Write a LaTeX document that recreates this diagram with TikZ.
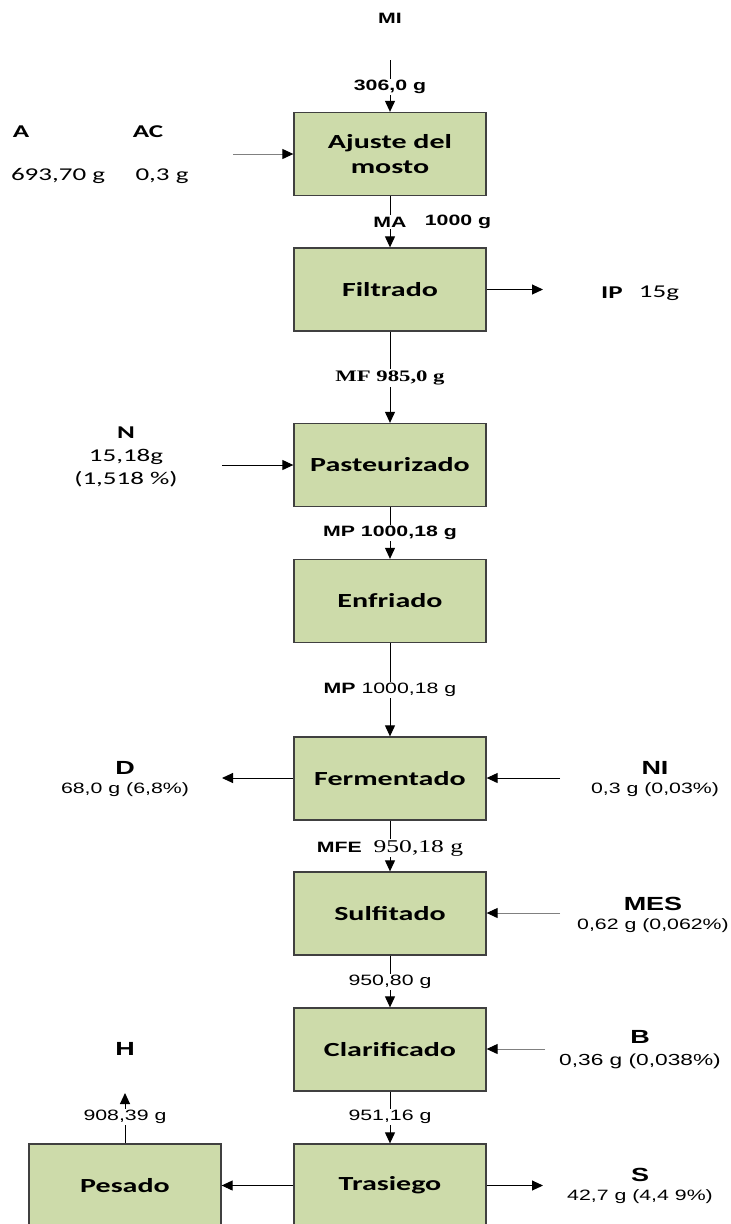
\documentclass[tikz,border=0pt]{standalone}
\usepackage{fontspec}
\usetikzlibrary{arrows.meta}
\newfontfamily\calfont[FakeStretch=1.5]{Carlito}
\newfontfamily\arifont[FakeStretch=1.42]{Liberation Sans}
\newfontfamily\timfont[FakeStretch=1.42]{Liberation Serif}
\definecolor{boxfill}{RGB}{205,219,170}
\definecolor{boxline}{RGB}{64,64,64}
\definecolor{feedline}{RGB}{128,128,128}
\tikzset{
  proc/.style={draw=boxline, line width=1.3pt, fill=boxfill,
    minimum width=192pt, minimum height=83pt, align=center, inner sep=0pt,
    font=\calfont\bfseries\fontsize{20}{25}\selectfont},
  flow/.style={line width=1pt, -{Triangle[length=11pt,width=10pt]}},
  grayflow/.style={line width=1pt, draw=feedline, -{Triangle[length=11pt,width=10pt,color=black]}},
  onlink/.style={fill=white, inner sep=1.5pt, font=\arifont\fontsize{15}{18}\selectfont},
  tagA/.style={inner sep=0pt, font=\arifont\bfseries\fontsize{19}{22}\selectfont},
  valA/.style={inner sep=0pt, font=\arifont\fontsize{15}{18}\selectfont},
  tagC/.style={inner sep=0pt, font=\calfont\bfseries\fontsize{18}{22}\selectfont},
  valC/.style={inner sep=0pt, font=\calfont\fontsize{18}{22}\selectfont},
}
\begin{document}
\begin{tikzpicture}[x=1pt, y=-1pt]
\useasboundingbox (0,0) rectangle (731,1224);

% process steps
\node[proc] (ajuste)  at (390,154)    {Ajuste del\\mosto};
\node[proc] (filtr)   at (390,289.5)  {Filtrado};
\node[proc] (past)    at (390,465)    {Pasteurizado};
\node[proc] (enfr)    at (390,601)    {Enfriado};
\node[proc] (ferm)    at (390,778.5)  {Fermentado};
\node[proc] (sulf)    at (390,913.5)  {Sulfitado};
\node[proc] (clar)    at (390,1049.5) {Clarificado};
\node[proc] (tras)    at (390,1185.5) {Trasiego};
\node[proc] (pesado)  at (125,1185.5) {Pesado};

% raw material entering
\node[tagA, font=\arifont\bfseries\fontsize{15}{18}\selectfont] (mi) at (390,18) {MI};
\coordinate (mitop) at (390,60);
\draw[flow] (mitop) -- (ajuste.north);
\node[onlink, font=\arifont\bfseries\fontsize{15}{18}\selectfont] (l306) at (390,87) {306,0 g};

% water and acid
\node[tagC] (atag)  at (21,132)  {A};
\node[tagC] (actag) at (148,132) {AC};
\node[valC] (aval)  at (58,176)  {693,70 g};
\node[valC] (acval) at (162,176) {0,3 g};
\coordinate (ain) at (233,154);
\draw[grayflow] (ain) -- (ajuste.west);

% adjusted must
\draw[flow] (ajuste.south) -- (filtr.north);
\node[onlink, font=\arifont\bfseries\fontsize{15}{18}\selectfont] (lma) at (390,222) {MA};
\node[valA, font=\arifont\bfseries\fontsize{15}{18}\selectfont] (lma2) at (458,222) {1000 g};

% impurities out
\coordinate (ipout) at (543,289.5);
\draw[flow] (filtr.east) -- (ipout);
\node[tagC] (iptag) at (612,293) {IP};
\node[valC] (ipval) at (659,293) {15g};

% filtered must
\draw[flow] (filtr.south) -- (past.north);
\node[onlink, font=\timfont\bfseries\fontsize{16}{19}\selectfont] (lmf) at (390,378) {MF 985,0 g};

% nutrients
\node[tagC] (ntag)  at (126,433) {N};
\node[valC] (nval1) at (126,457) {15,18g};
\node[valC] (nval2) at (126,479) {(1,518 \%)};
\coordinate (nin) at (222,465);
\draw[flow] (nin) -- (past.west);

% pasteurised must
\draw[flow] (past.south) -- (enfr.north);
\node[onlink, font=\arifont\bfseries\fontsize{15}{18}\selectfont] (lmp) at (390,533) {MP 1000,18 g};

\draw[flow] (enfr.south) -- (ferm.north);
\node[onlink] (lmp2) at (390,690) {\textbf{MP} 1000,18 g};

% fermentation
\coordinate (dout) at (222,778);
\draw[flow] (ferm.west |- dout) -- (dout);
\node[tagA] (dtag) at (125,768) {D};
\node[valA] (dval) at (125,790) {68,0 g (6,8\%)};
\coordinate (niin) at (560,778);
\draw[flow] (niin) -- (ferm.east |- niin);
\node[tagA] (nitag) at (655,768) {NI};
\node[valA] (nival) at (655,790) {0,3 g (0,03\%)};

\draw[flow] (ferm.south) -- (sulf.north);
\node[onlink] (lmfe) at (390,848) {\textbf{MFE}\ \ {\timfont\fontsize{18}{20}\selectfont 950,18 g}};

% sulphiting
\coordinate (mesin) at (560,913);
\draw[grayflow] (mesin) -- (sulf.east |- mesin);
\node[tagA] (mestag) at (653,904) {MES};
\node[valA] (mesval) at (653,926) {0,62 g (0,062\%)};

\draw[flow] (sulf.south) -- (clar.north);
\node[onlink] (l950) at (390,982) {950,80 g};

% clarifying agent
\coordinate (bin) at (545,1049);
\draw[grayflow] (bin) -- (clar.east |- bin);
\node[tagA] (btag) at (640,1037) {B};
\node[valA, font=\arifont\fontsize{16}{19}\selectfont] (bval) at (640,1061) {0,36 g (0,038\%)};

\draw[flow] (clar.south) -- (tras.north);
\node[onlink] (l951) at (390,1117) {951,16 g};

% racking
\draw[flow] (tras.west) -- (pesado.east);
\coordinate (sout) at (543,1185.5);
\draw[flow] (tras.east) -- (sout);
\node[tagA] (stag) at (640,1175) {S};
\node[valA] (sval) at (640,1197) {42,7 g (4,4 9\%)};

% weighed product
\coordinate (hout) at (125,1093);
\draw[flow] (pesado.north) -- (hout);
\node[onlink] (l908) at (125,1117) {908,39 g};
\node[tagA] (htag) at (125,1049) {H};
\end{tikzpicture}
\end{document}
